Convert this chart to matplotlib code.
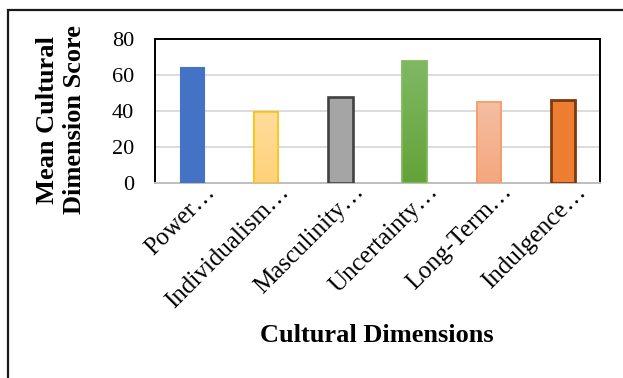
import numpy as np
import matplotlib.pyplot as plt
import matplotlib.transforms as mtransforms
from matplotlib.colors import LinearSegmentedColormap
from matplotlib.patches import Rectangle

plt.rcParams['font.family'] = ['Liberation Serif', 'DejaVu Serif']

# data
dimensions = ["Power\u2026", "Individualism\u2026", "Masculinity\u2026",
              "Uncertainty\u2026", "Long-Term\u2026", "Indulgence\u2026"]
scores = [64.6, 39.6, 47.9, 67.8, 45.1, 46.0]
face_colors = ["#4472C4", "#FFD68A", "#A5A5A5", "#6FAD47", "#F4B08F", "#ED7D31"]
# top/bottom colours for the bars that have a light gradient
gradients = {1: ("#FFDD9C", "#FFD27A"), 3: ("#80B862", "#63A339"),
             4: ("#F5BEA2", "#F4A77F")}
edge_colors = ["#4472C4", "#FFC000", "#404040", "#84BC60", "#F79A5E", "#7A3A0E"]
edge_widths = [0.8, 1.1, 1.9, 1.1, 1.1, 2.0]
yticks = [0, 20, 40, 60, 80]

fig = plt.figure(figsize=(6.23, 3.78), dpi=100)
ax = fig.add_axes([155 / 623, 1 - 182.7 / 378, 445 / 623, 143.7 / 378])

x = np.arange(len(dimensions))
bars = ax.bar(x, scores, width=0.33, color=face_colors, edgecolor=edge_colors,
              linewidth=edge_widths, zorder=3)

for i, (top, bottom) in gradients.items():
    b = bars[i]
    cmap = LinearSegmentedColormap.from_list("g%d" % i, [bottom, top])
    x0, w, h = b.get_x(), b.get_width(), b.get_height()
    im = ax.imshow(np.linspace(0, 1, 64).reshape(-1, 1), cmap=cmap,
                   origin='lower', aspect='auto',
                   extent=[x0, x0 + w, 0, h], zorder=3.5)
    im.set_clip_path(b)
    # edge on top of gradient
    ax.add_patch(Rectangle((x0, 0), w, h, fill=False, edgecolor=edge_colors[i],
                           linewidth=edge_widths[i], zorder=4))

ax.set_xlim(-0.5, len(dimensions) - 0.5)
ax.set_ylim(0, 80)
ax.set_yticks(yticks)
ax.yaxis.grid(True, color="#D9D9D9", linewidth=1.3, zorder=0)
ax.tick_params(axis='both', length=0, labelsize=16)
ax.tick_params(axis='y', pad=15)
ax.set_xticks(x)
ax.set_xticklabels(dimensions, rotation=45, ha='right', va='top',
                   rotation_mode='anchor', fontsize=18)
shift = mtransforms.ScaledTranslation(0.12, 0.07, fig.dpi_scale_trans)
for lab in ax.get_xticklabels():
    lab.set_transform(lab.get_transform() + shift)
for s in ['top', 'left', 'right']:
    ax.spines[s].set_color('black')
    ax.spines[s].set_linewidth(1.4)
ax.spines['bottom'].set_color('#BFBFBF')
ax.spines['bottom'].set_linewidth(1.4)

fig.text(61 / 623, 1 - 120 / 378, "Mean Cultural\nDimension Score",
         rotation=90, ha='center', va='center', fontsize=19, fontweight='bold')
fig.text(377 / 623, 1 - 335 / 378, "Cultural Dimensions",
         ha='center', va='center', fontsize=19, fontweight='bold')

# outer chart frame (only left and top are inside the crop)
fig.patches.append(Rectangle((8 / 623, -0.1), 1.2, 1 - 10 / 378 + 0.1,
                             transform=fig.transFigure, fill=False,
                             edgecolor='#1a1a1a', linewidth=1.6))

plt.savefig("out.png", dpi=100)
